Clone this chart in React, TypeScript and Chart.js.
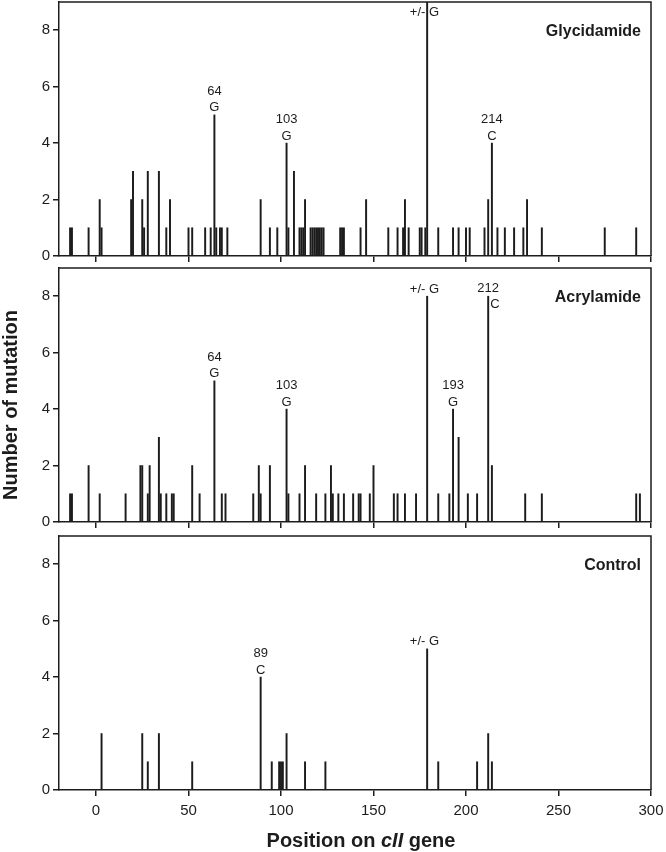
import React, { useEffect, useRef } from 'react';
import { Chart, registerables } from 'chart.js';

Chart.register(...registerables);

// ---------- data ----------
const X_TICKS = [0, 50, 100, 150, 200, 250, 300];
const Y_TICKS = [0, 2, 4, 6, 8];
const X_MIN = -20;
const X_MAX = 300;
const Y_MIN = 0;
const Y_MAX = 9;

const glyPositions = [-14, -13, -4, 2, 3, 19, 20, 25, 26, 28, 34, 38, 40, 50, 52, 59, 62, 64, 65, 67, 68, 71, 89, 94, 98, 103, 104, 107, 110, 111, 112, 113, 116, 117, 118, 119, 120, 121, 122, 123, 132, 133, 134, 143, 146, 158, 163, 166, 167, 169, 175, 176, 178, 179, 185, 193, 196, 200, 202, 210, 212, 214, 217, 221, 226, 231, 233, 241, 275, 292];
const glyCounts = [1, 1, 1, 2, 1, 2, 3, 2, 1, 3, 3, 1, 2, 1, 1, 1, 1, 5, 1, 1, 1, 1, 2, 1, 1, 4, 1, 3, 1, 1, 1, 2, 1, 1, 1, 1, 1, 1, 1, 1, 1, 1, 1, 1, 2, 1, 1, 1, 2, 1, 1, 1, 1, 9, 1, 1, 1, 1, 1, 1, 2, 4, 1, 1, 1, 1, 2, 1, 1, 1];

const acrPositions = [-14, -13, -4, 2, 16, 24, 25, 28, 29, 34, 35, 38, 41, 42, 52, 56, 64, 68, 70, 85, 88, 89, 94, 103, 104, 110, 113, 119, 124, 127, 128, 131, 134, 139, 142, 143, 148, 150, 161, 163, 167, 173, 179, 185, 191, 193, 196, 201, 206, 212, 214, 232, 241, 292, 294];
const acrCounts = [1, 1, 2, 1, 1, 2, 2, 1, 2, 3, 1, 1, 1, 1, 2, 1, 5, 1, 1, 1, 2, 1, 2, 4, 1, 1, 2, 1, 1, 2, 1, 1, 1, 1, 1, 1, 1, 2, 1, 1, 1, 1, 8, 1, 1, 4, 3, 1, 1, 8, 2, 1, 1, 1, 1];

const ctlPositions = [3, 25, 28, 34, 52, 89, 95, 99, 100, 101, 103, 113, 124, 179, 185, 206, 212, 214];
const ctlCounts = [2, 2, 1, 2, 1, 4, 1, 1, 1, 1, 2, 1, 1, 5, 1, 1, 2, 1];

const glyLabels = [
  { x: 64, text: ['64', 'G'], kind: 'stack' },
  { x: 103, text: ['103', 'G'], kind: 'stack' },
  { x: 179, text: ['+/- G'], kind: 'split' },
  { x: 214, text: ['214', 'C'], kind: 'stack' },
];
const acrLabels = [
  { x: 64, text: ['64', 'G'], kind: 'stack' },
  { x: 103, text: ['103', 'G'], kind: 'stack' },
  { x: 179, text: ['+/- G'], kind: 'split' },
  { x: 193, text: ['193', 'G'], kind: 'stack' },
  { x: 212, text: ['212', 'C'], kind: 'side' },
];
const ctlLabels = [
  { x: 89, text: ['89', 'C'], kind: 'stack' },
  { x: 179, text: ['+/- G'], kind: 'split' },
];

const PANEL_NAMES = ['Glycidamide', 'Acrylamide', 'Control'];
const Y_TITLE = 'Number of mutation';
const X_TITLE_PARTS = [
  { t: 'Position on ', italic: false },
  { t: 'cII', italic: true },
  { t: ' gene', italic: false },
];

// ---------- styles / layout ----------
const W = 666;
const H = 852;
const INK = '#1c1c1c';
const FONT = '"Liberation Sans", Arial, Helvetica, sans-serif';
const PANEL_BOXES = [
  { top: 2, bottom: 256 },
  { top: 268, bottom: 522 },
  { top: 536, bottom: 790 },
];
const PLOT_LEFT = 59;
const PLOT_RIGHT = 651;
const X_AXIS_H = 40;

const panelPlugin = {
  id: 'panelDeco',
  afterDraw(chart: any, _args: any, opts: any) {
    const { ctx, chartArea: a } = chart;
    const xs = chart.scales.x;
    const ys = chart.scales.y;
    ctx.save();
    // frame top and right
    ctx.strokeStyle = INK;
    ctx.lineWidth = 1.5;
    ctx.beginPath();
    ctx.moveTo(a.left, a.top);
    ctx.lineTo(a.right, a.top);
    ctx.lineTo(a.right, a.bottom);
    ctx.stroke();

    ctx.fillStyle = INK;
    // panel name
    ctx.font = `bold 16px ${FONT}`;
    ctx.textAlign = 'right';
    ctx.textBaseline = 'alphabetic';
    ctx.fillText(opts.name, a.right - 10, a.top + 34);

    // annotations
    ctx.font = `13px ${FONT}`;
    ctx.textBaseline = 'middle';
    const pos: number[] = opts.positions;
    const cnt: number[] = opts.counts;
    for (const lab of opts.labels) {
      const idx = pos.indexOf(lab.x);
      const v = idx >= 0 ? cnt[idx] : 0;
      const px = xs.getPixelForValue(lab.x);
      const clipped = v >= Y_MAX;
      const topPx = ys.getPixelForValue(Math.min(v, Y_MAX));
      ctx.textAlign = 'center';
      if (lab.kind === 'split') {
        const y = clipped ? a.top + 10 : topPx - 7;
        ctx.fillText(lab.text[0], px - 2.7, y);
      } else if (lab.kind === 'side') {
        ctx.fillText(lab.text[0], px, topPx - 8);
        ctx.fillText(lab.text[1], px + 6.7, topPx + 8);
      } else {
        ctx.fillText(lab.text[0], px, topPx - 23.5);
        ctx.fillText(lab.text[1], px, topPx - 7);
      }
    }

    if (opts.titles) {
      ctx.font = `bold 20px ${FONT}`;
      ctx.textBaseline = 'alphabetic';
      ctx.textAlign = 'center';
      ctx.save();
      ctx.translate(16.5, 405);
      ctx.rotate(-Math.PI / 2);
      ctx.fillText(Y_TITLE, 0, 0);
      ctx.restore();

      ctx.textAlign = 'left';
      const fonts = X_TITLE_PARTS.map((p) => (p.italic ? `italic bold 20px ${FONT}` : `bold 20px ${FONT}`));
      const widths = X_TITLE_PARTS.map((p, i) => {
        ctx.font = fonts[i];
        return ctx.measureText(p.t).width;
      });
      const total = widths.reduce((s, w) => s + w, 0);
      let x = 361 - total / 2;
      X_TITLE_PARTS.forEach((p, i) => {
        ctx.font = fonts[i];
        ctx.fillText(p.t, x, 846.5);
        x += widths[i];
      });
    }
    ctx.restore();
  },
};

function makeConfig(i: number, positions: number[], counts: number[], labels: any[]) {
  const box = PANEL_BOXES[i];
  const isBottom = i === 2;
  const axisH = isBottom ? X_AXIS_H : 0;
  return {
    type: 'bar',
    data: {
      datasets: [
        {
          data: positions.map((x, k) => ({ x, y: counts[k] })),
          backgroundColor: INK,
          borderWidth: 0,
          barThickness: 1.3,
        },
      ],
    },
    options: {
      responsive: false,
      animation: false,
      events: [],
      layout: {
        autoPadding: false,
        padding: { left: 0, right: W - PLOT_RIGHT, top: box.top, bottom: H - box.bottom - axisH },
      },
      plugins: {
        legend: { display: false },
        tooltip: { enabled: false },
        panelDeco: {
          name: PANEL_NAMES[i],
          labels,
          positions,
          counts,
          titles: isBottom,
        },
      },
      scales: {
        x: {
          type: 'linear',
          min: X_MIN,
          max: X_MAX,
          offset: false,
          afterBuildTicks: (s: any) => {
            s.ticks = X_TICKS.map((value) => ({ value }));
          },
          afterFit: (s: any) => {
            s.height = axisH;
            s.paddingLeft = 0;
            s.paddingRight = 0;
          },
          grid: {
            display: true,
            drawOnChartArea: false,
            drawTicks: true,
            tickLength: 6,
            color: INK,
            lineWidth: 1.5,
            offset: false,
          },
          border: { display: true, color: INK, width: 1.5 },
          ticks: {
            display: isBottom,
            color: INK,
            font: { family: FONT, size: 15 },
            padding: 6,
            maxRotation: 0,
            autoSkip: false,
          },
        },
        y: {
          type: 'linear',
          min: Y_MIN,
          max: Y_MAX,
          afterBuildTicks: (s: any) => {
            s.ticks = Y_TICKS.map((value) => ({ value }));
          },
          afterFit: (s: any) => {
            s.width = PLOT_LEFT;
            s.paddingTop = 0;
            s.paddingBottom = 0;
          },
          grid: {
            display: true,
            drawOnChartArea: false,
            drawTicks: true,
            tickLength: 6,
            color: INK,
            lineWidth: 1.5,
          },
          border: { display: true, color: INK, width: 1.5 },
          ticks: {
            color: INK,
            font: { family: FONT, size: 15 },
            padding: 3,
          },
        },
      },
    },
    plugins: [panelPlugin],
  };
}

export default function App() {
  const r1 = useRef<HTMLCanvasElement>(null);
  const r2 = useRef<HTMLCanvasElement>(null);
  const r3 = useRef<HTMLCanvasElement>(null);

  useEffect(() => {
    const charts: Chart[] = [];
    const defs: [HTMLCanvasElement | null, number[], number[], any[]][] = [
      [r1.current, glyPositions, glyCounts, glyLabels],
      [r2.current, acrPositions, acrCounts, acrLabels],
      [r3.current, ctlPositions, ctlCounts, ctlLabels],
    ];
    defs.forEach(([cv, p, c, l], i) => {
      if (cv) charts.push(new Chart(cv, makeConfig(i, p, c, l) as any));
    });
    return () => charts.forEach((ch) => ch.destroy());
  }, []);

  const cvStyle: React.CSSProperties = { position: 'absolute', left: 0, top: 0, width: W, height: H };
  return (
    <div style={{ position: 'absolute', left: 0, top: 0, width: W, height: H, background: '#fff' }}>
      <canvas ref={r1} width={W} height={H} style={cvStyle} />
      <canvas ref={r2} width={W} height={H} style={cvStyle} />
      <canvas ref={r3} width={W} height={H} style={cvStyle} />
    </div>
  );
}
